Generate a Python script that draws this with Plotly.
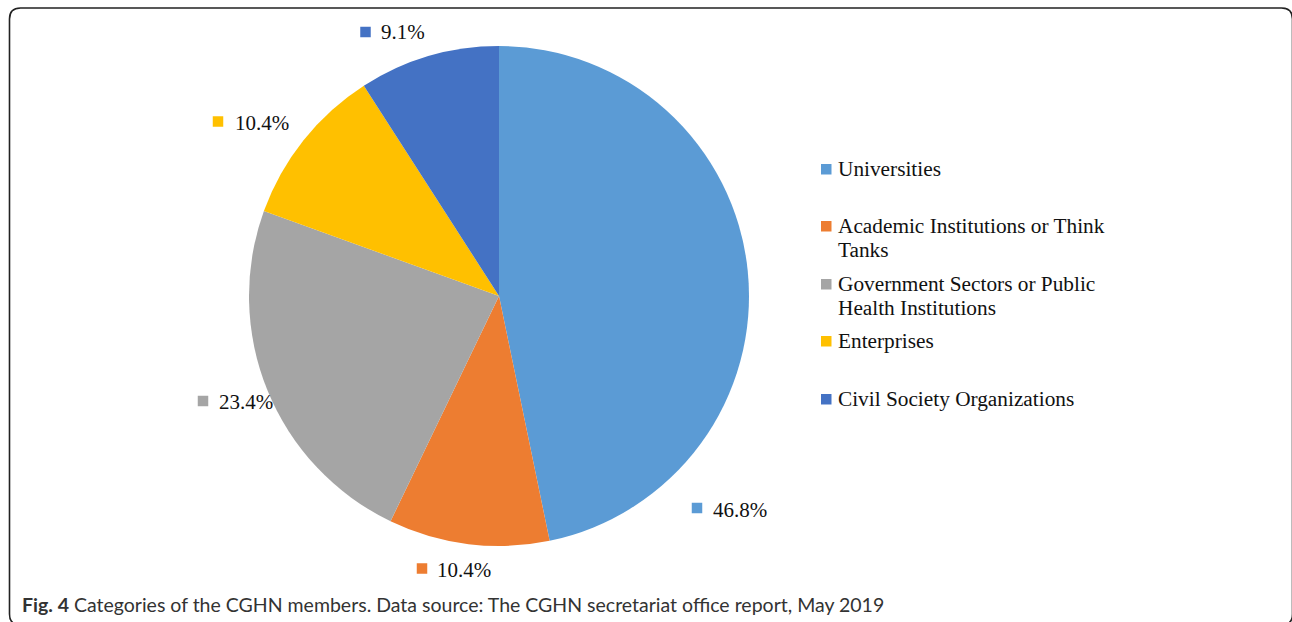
import plotly.graph_objects as go

# ---- data ----
categories = [
    "Universities",
    "Academic Institutions or Think Tanks",
    "Government Sectors or Public Health Institutions",
    "Enterprises",
    "Civil Society Organizations",
]
legend_lines = [
    ["Universities"],
    ["Academic Institutions or Think", "Tanks"],
    ["Government Sectors or Public", "Health Institutions"],
    ["Enterprises"],
    ["Civil Society Organizations"],
]
shares = [46.8, 10.4, 23.4, 10.4, 9.1]
colors = ["#5B9BD5", "#ED7D31", "#A5A5A5", "#FFC000", "#4472C4"]
caption_bold = "Fig. 4"
caption_text = "Categories of the CGHN members. Data source: The CGHN secretariat office report, May 2019"

# ---- layout helpers (pixel -> paper) ----
W, H = 1292, 622
def X(px):
    return px / W
def Y(py):
    return 1 - py / H

# label positions (text left x, center y) and square centers, per slice
label_pos = [(712, 510), (436, 570), (218, 402), (234, 123), (380, 32)]
square_pos = [(697, 508), (422, 568.5), (203, 401), (218, 121.5), (365.5, 32)]
legend_y = [[169], [226, 250], [284, 308], [341], [399]]
SQ = 10.5

serif = "Liberation Serif, Times New Roman, serif"

fig = go.Figure()
fig.add_trace(go.Pie(
    labels=categories,
    values=shares,
    marker=dict(colors=colors, line=dict(width=0)),
    sort=False,
    direction="clockwise",
    rotation=0,
    textinfo="none",
    hoverinfo="label+percent",
    showlegend=False,
    domain=dict(x=[X(249), X(749)], y=[Y(546), Y(46)]),
))

shapes = []
annotations = []

# percentage labels with colored squares
for v, c, (tx, ty), (sx, sy) in zip(shares, colors, label_pos, square_pos):
    shapes.append(dict(type="rect", xref="paper", yref="paper",
                       x0=X(sx - SQ / 2), x1=X(sx + SQ / 2),
                       y0=Y(sy + SQ / 2), y1=Y(sy - SQ / 2),
                       fillcolor=c, line=dict(width=0)))
    annotations.append(dict(xref="paper", yref="paper", x=X(tx), y=Y(ty),
                            xanchor="left", yanchor="middle", showarrow=False,
                            text=f"{v:.1f}%", borderpad=0,
                            font=dict(family=serif, size=21, color="#111")))

# manual legend
for lines, c, ys in zip(legend_lines, colors, legend_y):
    shapes.append(dict(type="rect", xref="paper", yref="paper",
                       x0=X(821), x1=X(831.5),
                       y0=Y(ys[0] + 5.5), y1=Y(ys[0] - 5),
                       fillcolor=c, line=dict(width=0)))
    for line, yy in zip(lines, ys):
        annotations.append(dict(xref="paper", yref="paper", x=X(837), y=Y(yy),
                                xanchor="left", yanchor="middle", showarrow=False,
                                text=line, borderpad=0,
                                font=dict(family=serif, size=21.3, color="#111")))

# caption
annotations.append(dict(xref="paper", yref="paper", x=X(21), y=Y(604),
                        xanchor="left", yanchor="middle", showarrow=False,
                        text=f"<b>{caption_bold}</b> {caption_text}", borderpad=0,
                        font=dict(family="Lato, Open Sans, sans-serif", size=19.5, color="#333")))

# rounded frame
x0, x1, y0, y1, r = 9.5, 1292.5, 8, 625, 11
path = (f"M {X(x0)},{Y(y0 + r)} "
        f"Q {X(x0)},{Y(y0)} {X(x0 + r)},{Y(y0)} "
        f"L {X(x1 - r)},{Y(y0)} "
        f"Q {X(x1)},{Y(y0)} {X(x1)},{Y(y0 + r)} "
        f"L {X(x1)},{Y(y1 - r)} "
        f"Q {X(x1)},{Y(y1)} {X(x1 - r)},{Y(y1)} "
        f"L {X(x0 + r)},{Y(y1)} "
        f"Q {X(x0)},{Y(y1)} {X(x0)},{Y(y1 - r)} Z")
shapes.append(dict(type="path", xref="paper", yref="paper", path=path,
                   line=dict(color="#222", width=1.6), fillcolor="rgba(0,0,0,0)"))

fig.update_layout(
    width=W, height=H,
    margin=dict(l=0, r=0, t=0, b=0),
    paper_bgcolor="white", plot_bgcolor="white",
    shapes=shapes, annotations=annotations,
    showlegend=False,
)

fig.write_html("out.html")
